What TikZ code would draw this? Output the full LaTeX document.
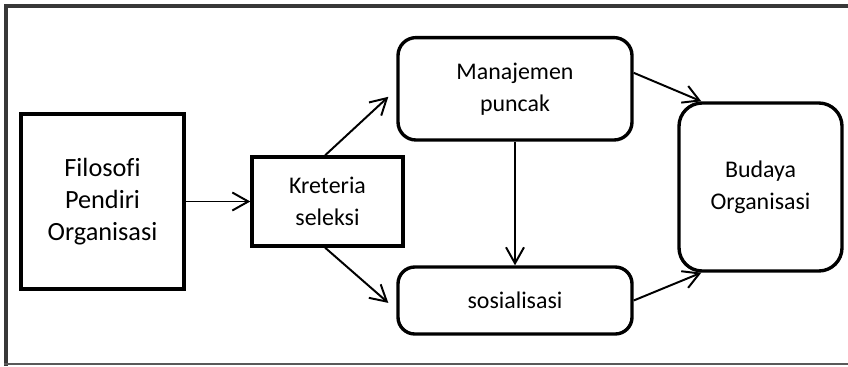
\documentclass[tikz,border=0pt]{standalone}
\usepackage{fontspec}
\setmainfont{Carlito}[Ligatures=NoCommon]
\usepackage{tikz}
\usetikzlibrary{arrows.meta,positioning}

\begin{document}
\begin{tikzpicture}[
        box/.style={draw, rectangle, line width=2.4pt, align=center, inner sep=0pt, font=\fontsize{17}{22.8}\selectfont},
        rbox/.style={box, rounded corners=0.45cm},
        link/.style={-{Straight Barb[length=0.4cm, width=0.45cm]}, line width=1.4pt}
    ]
        \useasboundingbox (0,0) rectangle (21.2,-9.15);

        % Frame
        \draw[line width=0.1cm, black!78] (21.2,-0.16) -- (0.15,-0.16) -- (0.15,-9.15);
        \draw[line width=0.04cm, black!65] (0.1,-9.1) -- (21.2,-9.1);

        % Left nodes
        \node[box, font=\fontsize{18.7}{22.8}\selectfont, minimum width=4.075cm, minimum height=4.375cm] (filosofi) at (2.5625,-5.0375) {Filosofi\\Pendiri\\Organisasi};
        \node[box, minimum width=3.775cm, minimum height=2.225cm] (kriteria) at (8.1875,-5.0375) {Kreteria\\seleksi};

        % Middle nodes
        \node[rbox, minimum width=5.85cm, minimum height=2.56cm] (manajemen) at (12.875,-2.22) {Manajemen\\puncak};
        \node[rbox, rounded corners=0.42cm, minimum width=5.85cm, minimum height=1.675cm] (sosialisasi) at (12.875,-7.5125) {sosialisasi};

        % Right node
        \node[rbox, rounded corners=0.58cm, minimum width=4.075cm, minimum height=4.2cm] (budaya) at (19.0125,-4.675) {Budaya\\Organisasi};

        % Connect nodes
        \draw[link] (filosofi) -- (kriteria);
        \draw[link] ([xshift=-0.06cm]kriteria.north) -- ([shift={(-0.2,-0.2)}]manajemen.west);
        \draw[link] ([xshift=-0.06cm]kriteria.south) -- ([shift={(-0.2,-0.06)}]sosialisasi.west);
        \draw[link] (manajemen) -- (sosialisasi);
        \draw[link] ([yshift=0.4cm]manajemen.east) -- ([xshift=0.6cm]budaya.north west);
        \draw[link] (sosialisasi.east) -- ([xshift=0.6cm]budaya.south west);
    \end{tikzpicture}
\end{document}
